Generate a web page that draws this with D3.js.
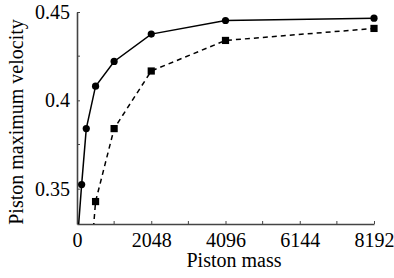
<!DOCTYPE html>
<html lang="en">
	<head>
		<meta charset="utf-8">
		<title>Piston maximum velocity vs piston mass</title>
		<script type="text/javascript" src="https://cdn.jsdelivr.net/npm/d3@7"></script>
		<style type="text/css">
			body { margin: 0; background: #fff; }
			text { font-family: "Liberation Serif", "DejaVu Serif", serif; }
		</style>
	</head>
	<body>
		<script type="text/javascript">

			//Data
			var massA = [32, 128, 256, 512, 1024, 2048, 4096, 8192];
			var velA  = [0.326, 0.3523, 0.384, 0.408, 0.422, 0.4375, 0.4452, 0.4465];

			var massB = [256, 512, 1024, 2048, 4096, 8192];
			var velB  = [0.277, 0.3427, 0.384, 0.4166, 0.4339, 0.4407];

			var xTicks = [0, 2048, 4096, 6144, 8192];
			var xMinor = [1024, 3072, 5120, 7168];
			var yTicks = [0.35, 0.4, 0.45];
			var yMinor = [0.375, 0.425];

			var w = 394;
			var h = 278;

			//Scales
			var xScale = d3.scaleLinear()
							.domain([0, 8192])
							.range([77, 374]);

			var yScale = d3.scaleLinear()
							.domain([0.33, 0.45])
							.range([224, 12]);

			var svg = d3.select("body")
						.append("svg")
						.attr("width", w)
						.attr("height", h);

			svg.append("clipPath")
			   .attr("id", "plotclip")
			   .append("rect")
			   .attr("x", 0)
			   .attr("y", 0)
			   .attr("width", w)
			   .attr("height", yScale(0.33));

			//Axes
			var xAxis = d3.axisBottom(xScale)
							.tickValues(xTicks)
							.tickSizeInner(-3)
							.tickSizeOuter(0)
							.tickPadding(9)
							.tickFormat(d3.format("d"));

			var yAxis = d3.axisLeft(yScale)
							.tickValues(yTicks)
							.tickSizeInner(-3)
							.tickSizeOuter(0)
							.tickPadding(7)
							.tickFormat(function(d) { return String(d); });

			var gx = svg.append("g")
						.attr("transform", "translate(0," + yScale(0.33) + ")")
						.call(xAxis);

			var gy = svg.append("g")
						.attr("transform", "translate(" + xScale(0) + ",0)")
						.call(yAxis);

			//Minor ticks
			gx.selectAll("line.minor")
			  .data(xMinor)
			  .enter()
			  .append("line")
			  .attr("class", "minor")
			  .attr("x1", function(d) { return xScale(d); })
			  .attr("x2", function(d) { return xScale(d); })
			  .attr("y1", 0)
			  .attr("y2", -3);

			gy.selectAll("line.minor")
			  .data(yMinor)
			  .enter()
			  .append("line")
			  .attr("class", "minor")
			  .attr("y1", function(d) { return yScale(d); })
			  .attr("y2", function(d) { return yScale(d); })
			  .attr("x1", 0)
			  .attr("x2", 3);

			[gx, gy].forEach(function(g) {
				g.select(".domain").attr("stroke", "#444").attr("stroke-width", 1.6);
				g.selectAll("line").attr("stroke", "#444").attr("stroke-width", 1);
				g.selectAll("text")
				 .attr("font-family", "Liberation Serif, serif")
				 .attr("font-size", "20px")
				 .attr("fill", "#000");
			});

			//Series
			var plot = svg.append("g").attr("clip-path", "url(#plotclip)");

			var line = d3.line()
						.x(function(d) { return xScale(d[0]); })
						.y(function(d) { return yScale(d[1]); });

			var ptsA = d3.zip(massA, velA);
			var ptsB = d3.zip(massB, velB);

			plot.append("path")
				.datum(ptsB)
				.attr("d", line)
				.attr("fill", "none")
				.attr("stroke", "#000")
				.attr("stroke-width", 1.5)
				.attr("stroke-dasharray", "5,4");

			plot.append("path")
				.datum(ptsA)
				.attr("d", line)
				.attr("fill", "none")
				.attr("stroke", "#000")
				.attr("stroke-width", 1.5);

			plot.selectAll("circle")
				.data(ptsA)
				.enter()
				.append("circle")
				.attr("cx", function(d) { return xScale(d[0]); })
				.attr("cy", function(d) { return yScale(d[1]); })
				.attr("r", 3.6)
				.attr("fill", "#000");

			plot.selectAll("rect.sq")
				.data(ptsB)
				.enter()
				.append("rect")
				.attr("class", "sq")
				.attr("x", function(d) { return xScale(d[0]) - 3.6; })
				.attr("y", function(d) { return yScale(d[1]) - 3.6; })
				.attr("width", 7.2)
				.attr("height", 7.2)
				.attr("fill", "#000");

			//Axis titles
			svg.append("text")
			   .attr("x", 234)
			   .attr("y", 267)
			   .attr("text-anchor", "middle")
			   .attr("font-size", "20px")
			   .text("Piston mass");

			svg.append("text")
			   .attr("transform", "translate(23,122) rotate(-90)")
			   .attr("text-anchor", "middle")
			   .attr("font-size", "20px")
			   .text("Piston maximum velocity");

		</script>
	</body>
</html>
